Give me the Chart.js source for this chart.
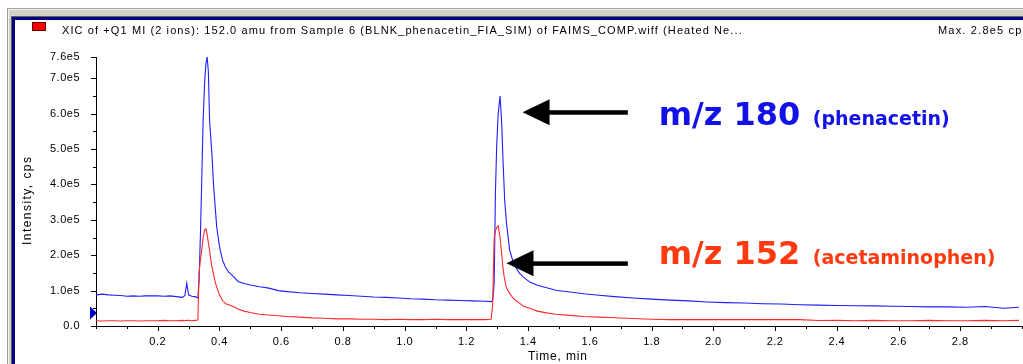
<!DOCTYPE html>
<html><head><meta charset="utf-8">
<script src="https://cdn.jsdelivr.net/npm/chart.js@4/dist/chart.umd.min.js"></script>
<style>html,body{margin:0;padding:0;background:#fff;overflow:hidden}canvas{display:block}</style>
</head><body>
<canvas id="c" width="1023" height="364" style="width:1023px;height:364px"></canvas>
<script>
// ---- data (time in min, intensity in cps) ----
const times = [
  0.000,0.020,0.040,0.060,0.080,0.100,0.120,0.140,0.160,0.180,0.200,0.220,0.240,0.260,0.280,
  0.288,0.294,0.300,0.310,0.320,0.330,
  0.334,0.338,0.342,0.347,0.352,0.356,0.360,0.364,0.368,0.372,0.376,0.380,0.385,0.391,
  0.400,0.410,0.420,0.430,0.445,0.460,0.480,0.500,0.530,0.560,0.590,0.620,0.660,0.700,0.740,0.780,0.820,0.860,0.900,0.940,0.980,1.020,1.060,1.100,1.140,1.180,1.220,1.260,1.280,
  1.285,1.290,1.294,1.298,1.303,1.309,1.314,1.319,1.324,1.330,1.340,1.350,1.360,1.373,1.385,
  1.405,1.430,1.460,1.490,1.535,1.580,1.630,1.680,1.740,1.800,1.860,1.920,1.980,2.040,2.100,2.160,2.220,2.280,2.340,2.400,2.460,2.520,2.580,2.640,2.700,2.760,2.820,2.880,2.940,2.990
];
const mz180 = [
  88000,90000,88000,87000,86000,84000,85000,84000,85000,85000,85000,84000,85000,83000,81000,
  86000,121000,88000,84000,83000,80000,
  130000,250000,390000,580000,690000,740000,760000,720000,580000,530000,480000,410000,350000,280000,
  225000,186000,165000,152000,140000,126000,120000,116000,111000,107000,100000,97000,94000,92000,90000,88000,86000,84000,82000,81000,79000,77000,76000,74000,73000,72000,71000,70000,69000,
  72000,120000,375000,506000,600000,650000,580000,460000,356000,290000,215000,185000,165000,148000,138000,
  124000,115000,108000,101000,96000,91000,87000,83000,79000,76000,73000,71000,68000,66000,65000,63000,62000,60000,59000,58000,57000,57000,56000,55000,54000,54000,53000,55000,50000,53000
];
const mz152 = [
  15000,14000,15000,15000,14000,15000,15000,14000,15000,15000,15000,16000,15000,15000,16000,
  15000,16000,16000,15000,16000,17000,
  150000,185000,210000,250000,272000,275000,258000,236000,212000,186000,166000,150000,128000,110000,
  88000,72000,63000,60000,55000,48000,42000,38000,33000,31000,29000,27000,25000,23000,22000,20000,20000,19000,19000,18000,19000,18000,18000,19000,18000,18000,18000,18000,19000,
  60000,250000,268000,278000,283000,250000,206000,160000,130000,108000,92000,80000,72000,64000,56000,
  50000,42000,37000,33000,30000,27000,25000,23500,21000,19000,18000,18000,18000,18000,18000,18000,18000,18000,15500,16000,15000,16000,15000,15000,16000,15000,15000,16000,15000,16000
];
const yLabelValues = [0,100000,200000,300000,400000,500000,600000,700000,760000];
const xLabelValues = [0.2,0.4,0.6,0.8,1.0,1.2,1.4,1.6,1.8,2.0,2.2,2.4,2.6,2.8];
const titleText = 'XIC of +Q1 MI (2 ions): 152.0 amu from Sample 6 (BLNK_phenacetin_FIA_SIM) of FAIMS_COMP.wiff (Heated Ne...';
const maxText = 'Max. 2.8e5 cps';
const xTitle = 'Time, min';
const yTitle = 'Intensity, cps';
const notes = [
  {main:'m/z 180', sub:'(phenacetin)', color:'#1212e8', tipT:1.382, tipV:604000, tailT:1.723, textT:1.823, subT:2.322, textV:568000},
  {main:'m/z 152', sub:'(acetaminophen)', color:'#ff3a10', tipT:1.330, tipV:177000, tailT:1.723, textT:1.823, subT:2.322, textV:175000}
];
const markerValue = 37000;

const near = (a, v) => a.some(u => Math.abs(u - v) < 1e-6);

function fitText(ctx, text, x, y, w) {
  ctx.letterSpacing = '0px';
  const m = ctx.measureText(text).width;
  const ls = (w - m) / (text.length - 1);
  ctx.letterSpacing = ls.toFixed(2) + 'px';
  ctx.fillText(text, x, y);
  ctx.letterSpacing = '0px';
}

const decor = {
  id: 'decor',
  beforeDraw(chart) {
    const ctx = chart.ctx, W = chart.width, H = chart.height;
    ctx.save();
    ctx.fillStyle = '#fff'; ctx.fillRect(0, 0, W, H);
    ctx.fillStyle = '#d4d0c8'; ctx.fillRect(7, 8, W - 7, H - 8);
    ctx.fillStyle = '#a0a0a0'; ctx.fillRect(7, 8, W - 7, 1); ctx.fillRect(7, 8, 1, H - 8);
    ctx.fillStyle = '#f4f4f0'; ctx.fillRect(8, 9, W - 8, 1); ctx.fillRect(8, 9, 1, H - 9);
    ctx.fillStyle = '#606060'; ctx.fillRect(11, 16, W - 11, 1); ctx.fillRect(11, 16, 1, H - 16);
    ctx.fillStyle = '#000080'; ctx.fillRect(12, 17, W - 12, 3); ctx.fillRect(12, 17, 3, H - 17);
    ctx.fillStyle = '#fff'; ctx.fillRect(15, 20, W - 15, H - 20);
    // legend swatch
    ctx.fillStyle = '#ff0000'; ctx.fillRect(32, 22, 14, 9);
    ctx.strokeStyle = '#600000'; ctx.lineWidth = 1; ctx.strokeRect(32.5, 22.5, 13, 8);
    // header texts
    ctx.fillStyle = '#000'; ctx.font = '11px "Liberation Sans"'; ctx.textBaseline = 'alphabetic';
    fitText(ctx, titleText, 62, 34, 680);
    fitText(ctx, maxText, 938, 34, 90);
    ctx.restore();
    ctx.letterSpacing = '0.5px';
  },
  afterDraw(chart) {
    const ctx = chart.ctx, a = chart.chartArea, xs = chart.scales.x, ys = chart.scales.y;
    ctx.save();
    ctx.letterSpacing = '0px';
    ctx.strokeStyle = '#000'; ctx.lineWidth = 1;
    xs.ticks.forEach(t => {
      const px = Math.round(xs.getPixelForValue(t.value)) + 0.5;
      const major = near(xLabelValues, t.value);
      ctx.beginPath(); ctx.moveTo(px, a.bottom); ctx.lineTo(px, a.bottom + (major ? 5 : 3)); ctx.stroke();
    });
    ys.ticks.forEach(t => {
      const py = Math.round(ys.getPixelForValue(t.value)) + 0.5;
      const major = near(yLabelValues, t.value);
      ctx.beginPath(); ctx.moveTo(a.left, py); ctx.lineTo(a.left - (major ? 5 : 3), py); ctx.stroke();
    });
    // axis titles
    ctx.fillStyle = '#000'; ctx.font = '12px "Liberation Sans"';
    ctx.textBaseline = 'alphabetic'; ctx.textAlign = 'left';
    fitText(ctx, xTitle, 528, 360, 59);
    ctx.save();
    ctx.translate(31, 245); ctx.rotate(-Math.PI / 2);
    fitText(ctx, yTitle, 0, 0, 88);
    ctx.restore();
    // marker triangle on y axis
    const my = ys.getPixelForValue(markerValue);
    ctx.fillStyle = '#0000c0';
    ctx.beginPath(); ctx.moveTo(90, my - 6.5); ctx.lineTo(97, my); ctx.lineTo(90, my + 6.5); ctx.closePath(); ctx.fill();
    // annotations
    notes.forEach(n => {
      const tx = xs.getPixelForValue(n.tipT), ty = ys.getPixelForValue(n.tipV);
      const tail = xs.getPixelForValue(n.tailT);
      ctx.fillStyle = '#000';
      ctx.fillRect(tx + 20, ty - 2, tail - tx - 20, 4.5);
      ctx.beginPath(); ctx.moveTo(tx, ty); ctx.lineTo(tx + 27, ty - 13); ctx.lineTo(tx + 27, ty + 13); ctx.closePath(); ctx.fill();
      const bx = xs.getPixelForValue(n.textT), by = ys.getPixelForValue(n.textV);
      ctx.fillStyle = n.color;
      ctx.font = 'bold 32px "DejaVu Sans"';
      ctx.fillText(n.main, bx, by);
      ctx.font = 'bold 19px "DejaVu Sans"';
      ctx.fillText(n.sub, xs.getPixelForValue(n.subT), by);
    });
    ctx.restore();
  }
};

const fmtY = v => v === 0 ? '0.0' : (v / 100000).toFixed(1) + 'e5';
const tickFont = { family: 'Liberation Sans', size: 11 };

new Chart(document.getElementById('c'), {
  type: 'line',
  data: {
    datasets: [
      { label: 'm/z 180', data: times.map((t, i) => ({x: t, y: mz180[i]})), borderColor: '#1e1eff', borderWidth: 1.1, pointRadius: 0, tension: 0, order: 2 },
      { label: 'm/z 152', data: times.map((t, i) => ({x: t, y: mz152[i]})), borderColor: '#ff2a2a', borderWidth: 1.1, pointRadius: 0, tension: 0, order: 1 }
    ]
  },
  options: {
    responsive: false, animation: false, devicePixelRatio: 1,
    layout: { padding: { top: 57, left: 0, right: 1, bottom: 0 } },
    plugins: { legend: { display: false }, tooltip: { enabled: false }, title: { display: false } },
    scales: {
      x: {
        type: 'linear', min: 0, max: 3.0,
        afterBuildTicks: s => { const t = []; for (let i = 0; i <= 30; i++) t.push({value: i / 10}); s.ticks = t; },
        afterFit: s => { s.height = 38; },
        grid: { display: false },
        border: { display: true, color: '#000', width: 1 },
        ticks: { autoSkip: false, maxRotation: 0, padding: 1, color: '#000', font: tickFont,
          callback: v => near(xLabelValues, v) ? v.toFixed(1) : '' }
      },
      y: {
        min: 0, max: 760000,
        afterBuildTicks: s => { const t = []; for (let i = 0; i <= 14; i++) t.push({value: i * 50000}); t.push({value: 760000}); s.ticks = t; },
        afterFit: s => { s.width = 96; },
        grid: { display: false },
        border: { display: true, color: '#000', width: 1 },
        ticks: { autoSkip: false, padding: 8, color: '#000', font: tickFont,
          callback: v => near(yLabelValues, v) ? fmtY(v) : '' }
      }
    }
  },
  plugins: [decor]
});
</script>
</body></html>
